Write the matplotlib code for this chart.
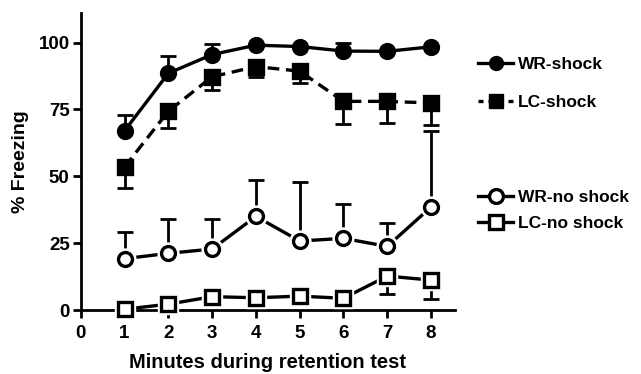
import numpy as np
import matplotlib.pyplot as plt

plt.rcParams['font.family'] = ['Liberation Sans', 'DejaVu Sans']
plt.rcParams['font.weight'] = 'bold'

minutes = [1, 2, 3, 4, 5, 6, 7, 8]
wr_shock = [67, 88.5, 95.5, 99, 98.5, 96.8, 96.7, 98.4]
wr_shock_err = [6, 6.5, 4, 0, 0, 3.2, 0, 0]
lc_shock = [53.5, 74.3, 87.2, 91, 89.3, 78, 78, 77.4]
lc_shock_err = [8, 6.3, 4.8, 3.8, 4.3, 8.5, 8, 8.4]
wr_noshock = [19.2, 21.2, 22.8, 35, 25.8, 26.8, 23.8, 38.5]
wr_noshock_err = [10, 13, 11.2, 13.7, 22, 12.9, 8.7, 28.3]
lc_noshock = [0.3, 2.2, 5, 4.6, 5.2, 4.4, 12.7, 11.2]
lc_noshock_err = [0, 0, 0, 0, 0, 0, 6.8, 7.2]

fig = plt.figure(figsize=(6.41, 3.74), dpi=100)
ax = fig.add_axes([0.126, 0.171, 0.584, 0.794])

lw = 2.4
ms = 10

def series(y, err, marker, fill, ls, up):
    y = np.array(y)
    err = np.array(err)
    yerr = [np.zeros_like(err), err] if up else [err, np.zeros_like(err)]
    ax.errorbar(minutes, y, yerr=yerr, fmt='none', ecolor='black', elinewidth=2,
                capsize=6, capthick=2, zorder=2, clip_on=False)
    ax.plot(minutes, y, color='black', linestyle=ls, linewidth=lw, zorder=3, clip_on=False)
    if fill == 'white':
        # white halo so the line stops short of the open markers
        ax.plot(minutes, y, linestyle='none', marker=marker, ms=ms + 5, mfc='white',
                mec='white', zorder=4, clip_on=False)
    ax.plot(minutes, y, linestyle='none', marker=marker, ms=ms, mfc=fill, mec='black',
            mew=2.4, zorder=5, clip_on=False)

series(wr_shock, wr_shock_err, 'o', 'black', '-', True)
series(lc_shock, lc_shock_err, 's', 'black', (0, (3.5, 2)), False)
series(wr_noshock, wr_noshock_err, 'o', 'white', '-', True)
series(lc_noshock, lc_noshock_err, 's', 'white', '-', False)

ax.set_xlim(0, 8.55)
ax.set_ylim(0, 111)
ax.set_xticks(range(0, 9))
ax.set_yticks([0, 25, 50, 75, 100])
ax.spines['top'].set_visible(False)
ax.spines['right'].set_visible(False)
ax.spines['left'].set_linewidth(2)
ax.spines['bottom'].set_linewidth(2)
ax.tick_params(width=2, length=6, labelsize=13.5)
ax.tick_params(axis='x', pad=5)
ax.tick_params(axis='y', pad=2)
for lab in ax.get_xticklabels() + ax.get_yticklabels():
    lab.set_fontweight('bold')
ax.set_xlabel('Minutes during retention test', fontsize=14.5, fontweight='bold', labelpad=8)
ax.set_ylabel('% Freezing', fontsize=14, fontweight='bold', labelpad=7)

h1 = plt.Line2D([], [], color='black', lw=lw, marker='o', ms=ms, mfc='black', mec='black')
h2 = plt.Line2D([], [], color='black', lw=lw, ls=(0, (1.5, 1.5)), marker='s', ms=ms, mfc='black', mec='black')
h3 = plt.Line2D([], [], color='black', lw=lw, marker='o', ms=ms, mfc='white', mec='black', mew=2.4)
h4 = plt.Line2D([], [], color='black', lw=lw, marker='s', ms=ms, mfc='white', mec='black', mew=2.4)

leg1 = fig.legend([h1, h2], ['WR-shock', 'LC-shock'], loc='upper left',
                  bbox_to_anchor=(0.722, 0.89), frameon=False, fontsize=12.5,
                  handlelength=2.0, labelspacing=1.3, handletextpad=0.3)
leg2 = fig.legend([h3, h4], ['WR-no shock', 'LC-no shock'], loc='upper left',
                  bbox_to_anchor=(0.722, 0.534), frameon=False, fontsize=12.5,
                  handlelength=2.0, labelspacing=0.6, handletextpad=0.3)
for leg in (leg1, leg2):
    for t in leg.get_texts():
        t.set_fontweight('bold')

fig.savefig('out.png', dpi=100)
